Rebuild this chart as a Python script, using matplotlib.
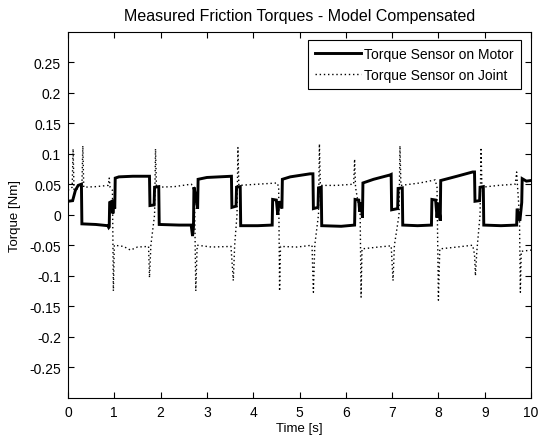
import matplotlib
matplotlib.use("Agg")
import matplotlib.pyplot as plt
import numpy as np

plt.rcParams['font.family'] = ['Liberation Sans', 'DejaVu Sans']

# ---- data (time in s, torque in Nm) ----
motor_t = [0.00, 0.10, 0.16, 0.22, 0.29, 0.30, 0.60, 0.86, 0.88, 0.89, 0.90, 0.95, 0.97, 0.99,
           1.01, 1.02, 1.10, 1.40, 1.76, 1.77, 1.86, 1.87, 1.96, 1.97, 2.40, 2.66, 2.69, 2.71,
           2.72, 2.76, 2.78, 2.80, 2.81, 3.00, 3.53, 3.54, 3.63, 3.64, 3.72, 3.73, 4.10, 4.41,
           4.42, 4.50, 4.53, 4.56, 4.62, 4.63, 4.80, 5.23, 5.29, 5.30, 5.40, 5.41, 5.47, 5.48,
           5.90, 6.19, 6.20, 6.28, 6.30, 6.33, 6.36, 6.37, 6.60, 6.95, 6.98, 6.99, 7.12, 7.13,
           7.22, 7.23, 7.55, 7.85, 7.86, 7.94, 7.97, 8.00, 8.04, 8.05, 8.40, 8.74, 8.78, 8.79,
           8.89, 8.90, 8.97, 8.98, 9.35, 9.69, 9.70, 9.76, 9.80, 9.81, 9.90, 10.00]
motor_v = [0.022, 0.023, 0.040, 0.048, 0.050, -0.015, -0.016, -0.018, -0.021, -0.020, 0.020, 0.022, 0.002, 0.018,
           0.010, 0.060, 0.062, 0.063, 0.063, 0.015, 0.016, 0.045, 0.046, -0.016, -0.017, -0.017, -0.035, -0.020,
           0.045, 0.030, 0.020, 0.010, 0.058, 0.061, 0.063, 0.012, 0.014, 0.045, 0.046, -0.018, -0.018, -0.017,
           0.025, 0.024, 0.000, 0.022, 0.010, 0.058, 0.062, 0.067, 0.067, 0.010, 0.012, 0.044, 0.045, -0.018,
           -0.019, -0.017, 0.025, 0.024, 0.005, 0.020, -0.005, 0.052, 0.058, 0.065, 0.066, 0.008, 0.010, 0.043,
           0.044, -0.017, -0.018, -0.017, 0.025, 0.024, -0.005, 0.020, -0.010, 0.056, 0.063, 0.070, 0.070, 0.022,
           0.023, 0.045, 0.046, -0.017, -0.018, -0.017, 0.010, -0.010, 0.020, 0.059, 0.055, 0.056]

joint_t = [0.00, 0.09, 0.11, 0.13, 0.30, 0.32, 0.34, 0.60, 0.87, 0.89, 0.91, 0.96, 0.98, 1.00,
           1.20, 1.35, 1.50, 1.74, 1.76, 1.79, 1.87, 1.89, 1.91, 2.30, 2.66, 2.73, 2.76, 2.79,
           3.10, 3.52, 3.57, 3.60, 3.65, 3.67, 3.69, 4.10, 4.52, 4.55, 4.57, 4.59, 4.95, 5.27,
           5.30, 5.33, 5.41, 5.43, 5.45, 5.80, 6.17, 6.19, 6.21, 6.31, 6.33, 6.35, 6.70, 6.98,
           7.02, 7.05, 7.15, 7.17, 7.19, 7.60, 7.93, 7.97, 8.00, 8.03, 8.40, 8.74, 8.78, 8.80,
           8.83, 8.90, 8.92, 8.94, 9.30, 9.66, 9.69, 9.71, 9.75, 9.77, 9.79, 10.00]
joint_v = [0.040, 0.045, 0.108, 0.040, 0.045, 0.113, 0.045, 0.046, 0.048, 0.060, 0.045, 0.040, -0.125, -0.050,
           -0.052, -0.058, -0.053, -0.052, -0.103, -0.050, 0.000, 0.108, 0.045, 0.046, 0.050, 0.045, -0.125, -0.050,
           -0.053, -0.052, -0.108, -0.050, 0.000, 0.110, 0.048, 0.050, 0.052, 0.045, -0.125, -0.052, -0.053, -0.050,
           -0.127, -0.050, 0.000, 0.116, 0.048, 0.048, 0.050, 0.091, 0.045, 0.000, -0.135, -0.056, -0.053, -0.051,
           -0.108, -0.050, 0.000, 0.113, 0.048, 0.052, 0.057, 0.045, -0.140, -0.056, -0.053, -0.050, -0.065, -0.100,
           -0.060, 0.000, 0.110, 0.045, 0.048, 0.050, 0.070, 0.045, 0.000, -0.127, -0.060, -0.058]

x_ticks = list(range(0, 11))
y_ticks = [-0.25, -0.2, -0.15, -0.1, -0.05, 0, 0.05, 0.1, 0.15, 0.2, 0.25]
y_ticklabels = ['-0.25', '-0.2', '-0.15', '-0.1', '-0.05', '0', '0.05', '0.1', '0.15', '0.2', '0.25']

fig = plt.figure(figsize=(5.38, 4.39), dpi=100)
ax = fig.add_axes([68 / 538, (439 - 398.8) / 439, 463 / 538, 366.2 / 439])

ax.plot(motor_t, motor_v, color='black', lw=2.1, solid_joinstyle='miter',
        label='Torque Sensor on Motor')
ax.plot(joint_t, joint_v, color='black', lw=1.0, linestyle=(0, (1, 2)),
        label='Torque Sensor on Joint')

ax.set_xlim(0, 10)
ax.set_ylim(-0.3, 0.3)
ax.set_xticks(x_ticks)
ax.set_xticklabels([str(v) for v in x_ticks])
ax.set_yticks(y_ticks)
ax.set_yticklabels(y_ticklabels)
ax.tick_params(direction='in', length=4, width=0.8, top=True, right=True,
               labelsize=10, colors='black', pad=4)
ax.tick_params(axis='y', pad=5)
ax.tick_params(axis='x', pad=5)
for s in ax.spines.values():
    s.set_linewidth(0.8)

ax.set_title('Measured Friction Torques - Model Compensated', fontsize=11.5, pad=8)
ax.set_xlabel('Time [s]', fontsize=9.5, labelpad=2)
ax.set_ylabel('Torque [Nm]', fontsize=9.5, labelpad=6)

leg = ax.legend(loc='upper right', bbox_to_anchor=(0.978, 0.977), borderaxespad=0,
                fontsize=10, frameon=True, fancybox=False, framealpha=1,
                edgecolor='black', handlelength=3.3, handletextpad=0.25,
                borderpad=0.5, labelspacing=0.5)
leg.get_frame().set_linewidth(0.8)

fig.savefig('out.png', dpi=100)
